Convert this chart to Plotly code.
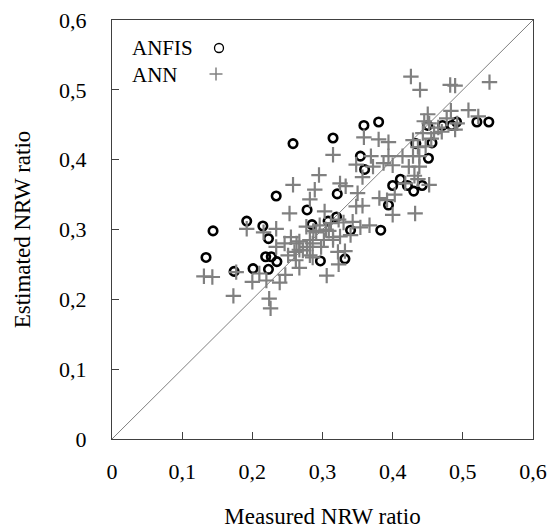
import plotly.graph_objects as go

# ---- data ----
anfis_measured = [0.134, 0.144, 0.174, 0.192, 0.201, 0.215, 0.219, 0.223, 0.223, 0.227,
                  0.234, 0.235, 0.258, 0.278, 0.285, 0.297, 0.308, 0.315, 0.320, 0.321,
                  0.332, 0.340, 0.354, 0.359, 0.360, 0.380, 0.383, 0.394, 0.400, 0.411,
                  0.421, 0.430, 0.433, 0.442, 0.450, 0.451, 0.456, 0.471, 0.484, 0.491,
                  0.520, 0.537]
anfis_estimated = [0.260, 0.298, 0.240, 0.312, 0.244, 0.305, 0.261, 0.287, 0.243, 0.261,
                   0.348, 0.254, 0.423, 0.328, 0.307, 0.255, 0.312, 0.431, 0.318, 0.351,
                   0.258, 0.299, 0.405, 0.449, 0.386, 0.454, 0.299, 0.335, 0.363, 0.372,
                   0.363, 0.355, 0.423, 0.363, 0.449, 0.402, 0.424, 0.449, 0.449, 0.454,
                   0.454, 0.454]

ann_measured = [0.426, 0.439, 0.482, 0.489, 0.538, 0.508, 0.522, 0.450, 0.483, 0.477,
                0.489, 0.465, 0.459, 0.443, 0.429, 0.436, 0.447, 0.414, 0.429, 0.438,
                0.423, 0.438, 0.431, 0.436, 0.452, 0.432, 0.400, 0.403, 0.392, 0.381,
                0.400, 0.394, 0.394, 0.380, 0.359, 0.369, 0.372, 0.348, 0.357, 0.387,
                0.315, 0.325, 0.333, 0.350, 0.357, 0.367, 0.354, 0.343, 0.340, 0.332,
                0.323, 0.306, 0.258, 0.289, 0.282, 0.253, 0.303, 0.234, 0.192, 0.216,
                0.255, 0.246, 0.263, 0.267, 0.234, 0.251, 0.277, 0.287, 0.131, 0.143,
                0.177, 0.173, 0.200, 0.210, 0.220, 0.224, 0.226, 0.239, 0.247, 0.267,
                0.262, 0.282, 0.286, 0.315, 0.322, 0.325, 0.309, 0.312, 0.323, 0.296,
                0.315, 0.302, 0.291, 0.282, 0.272, 0.260, 0.267, 0.286, 0.298, 0.295,
                0.348, 0.452, 0.470, 0.492, 0.418, 0.455, 0.445, 0.305, 0.278, 0.330]
ann_estimated = [0.519, 0.500, 0.507, 0.506, 0.511, 0.471, 0.462, 0.465, 0.470, 0.459,
                 0.443, 0.446, 0.438, 0.438, 0.428, 0.418, 0.419, 0.405, 0.405, 0.405,
                 0.390, 0.390, 0.377, 0.372, 0.364, 0.323, 0.321, 0.350, 0.342, 0.345,
                 0.392, 0.405, 0.425, 0.429, 0.432, 0.405, 0.390, 0.393, 0.375, 0.395,
                 0.407, 0.366, 0.362, 0.352, 0.334, 0.306, 0.303, 0.311, 0.292, 0.269,
                 0.250, 0.234, 0.364, 0.357, 0.343, 0.323, 0.326, 0.301, 0.301, 0.296,
                 0.289, 0.280, 0.280, 0.271, 0.275, 0.263, 0.304, 0.298, 0.233, 0.232,
                 0.239, 0.205, 0.225, 0.237, 0.227, 0.201, 0.187, 0.224, 0.235, 0.245,
                 0.256, 0.263, 0.260, 0.285, 0.268, 0.290, 0.298, 0.309, 0.314, 0.306,
                 0.289, 0.285, 0.296, 0.285, 0.270, 0.268, 0.283, 0.280, 0.275, 0.378,
                 0.333, 0.452, 0.440, 0.452, 0.366, 0.430, 0.455, 0.300, 0.275, 0.310]

diag = [0, 0.6]
tick_vals = [0, 0.1, 0.2, 0.3, 0.4, 0.5, 0.6]
tick_text = ["0", "0,1", "0,2", "0,3", "0,4", "0,5", "0,6"]

FONT = "Liberation Serif, Times New Roman, serif"
GRAY = "#808080"

fig = go.Figure()
fig.add_trace(go.Scatter(x=diag, y=diag, mode="lines",
                         line=dict(color="#7f7f7f", width=1), showlegend=False,
                         hoverinfo="skip"))
fig.add_trace(go.Scatter(x=anfis_measured, y=anfis_estimated, mode="markers", name="ANFIS",
                         marker=dict(symbol="circle-open", size=8.5, color="black",
                                     line=dict(color="black", width=2.6)),
                         showlegend=False))
fig.add_trace(go.Scatter(x=ann_measured, y=ann_estimated, mode="markers", name="ANN",
                         marker=dict(symbol="cross-thin-open", size=11, color=GRAY,
                                     line=dict(color=GRAY, width=2.2)),
                         showlegend=False))

axis_common = dict(range=[0, 0.6], tickvals=tick_vals, ticktext=tick_text,
                   ticks="inside", ticklen=7, tickcolor="#404040", tickwidth=1,
                   showline=True, linecolor="#404040", linewidth=1, mirror=True,
                   showgrid=False, zeroline=False, automargin=False,
                   tickfont=dict(family=FONT, size=22, color="black"))

fig.update_layout(
    width=553, height=529,
    margin=dict(l=112, r=20, t=20, b=90),
    paper_bgcolor="white", plot_bgcolor="white",
    xaxis=dict(**axis_common, ticklabelstandoff=13,
               title=dict(text="Measured NRW ratio", standoff=27,
                          font=dict(family=FONT, size=23, color="black"))),
    yaxis=dict(**axis_common, ticklabelstandoff=20,
               title=dict(text="Estimated NRW ratio", standoff=22,
                          font=dict(family=FONT, size=23, color="black"))),
    showlegend=False,
)

# legend drawn as text + symbol (symbol to the right of the label, as in the reference)
fig.add_annotation(x=(130 - 112) / 421, y=(439 - 48) / 419, xref="paper", yref="paper",
                   text="ANFIS", showarrow=False, xanchor="left", yanchor="middle",
                   font=dict(family=FONT, size=21, color="black"))
fig.add_annotation(x=(130 - 112) / 421, y=(439 - 75) / 419, xref="paper", yref="paper",
                   text="ANN", showarrow=False, xanchor="left", yanchor="middle",
                   font=dict(family=FONT, size=21, color="black"))
cx, cy = (219 - 112) / 421, (439 - 48) / 419
fig.add_shape(type="circle", xref="paper", yref="paper", xsizemode="pixel", ysizemode="pixel",
              xanchor=cx, yanchor=cy, x0=-4.5, x1=4.5, y0=-4.5, y1=4.5,
              line=dict(color="black", width=1.3))
px, py = (216 - 112) / 421, (439 - 74) / 419
fig.add_shape(type="line", xref="paper", yref="paper", xsizemode="pixel", ysizemode="pixel",
              xanchor=px, yanchor=py, x0=-6.5, x1=6.5, y0=0, y1=0,
              line=dict(color=GRAY, width=1.5))
fig.add_shape(type="line", xref="paper", yref="paper", xsizemode="pixel", ysizemode="pixel",
              xanchor=px, yanchor=py, x0=0, x1=0, y0=-6.5, y1=6.5,
              line=dict(color=GRAY, width=1.5))

fig.write_html("out.html")
